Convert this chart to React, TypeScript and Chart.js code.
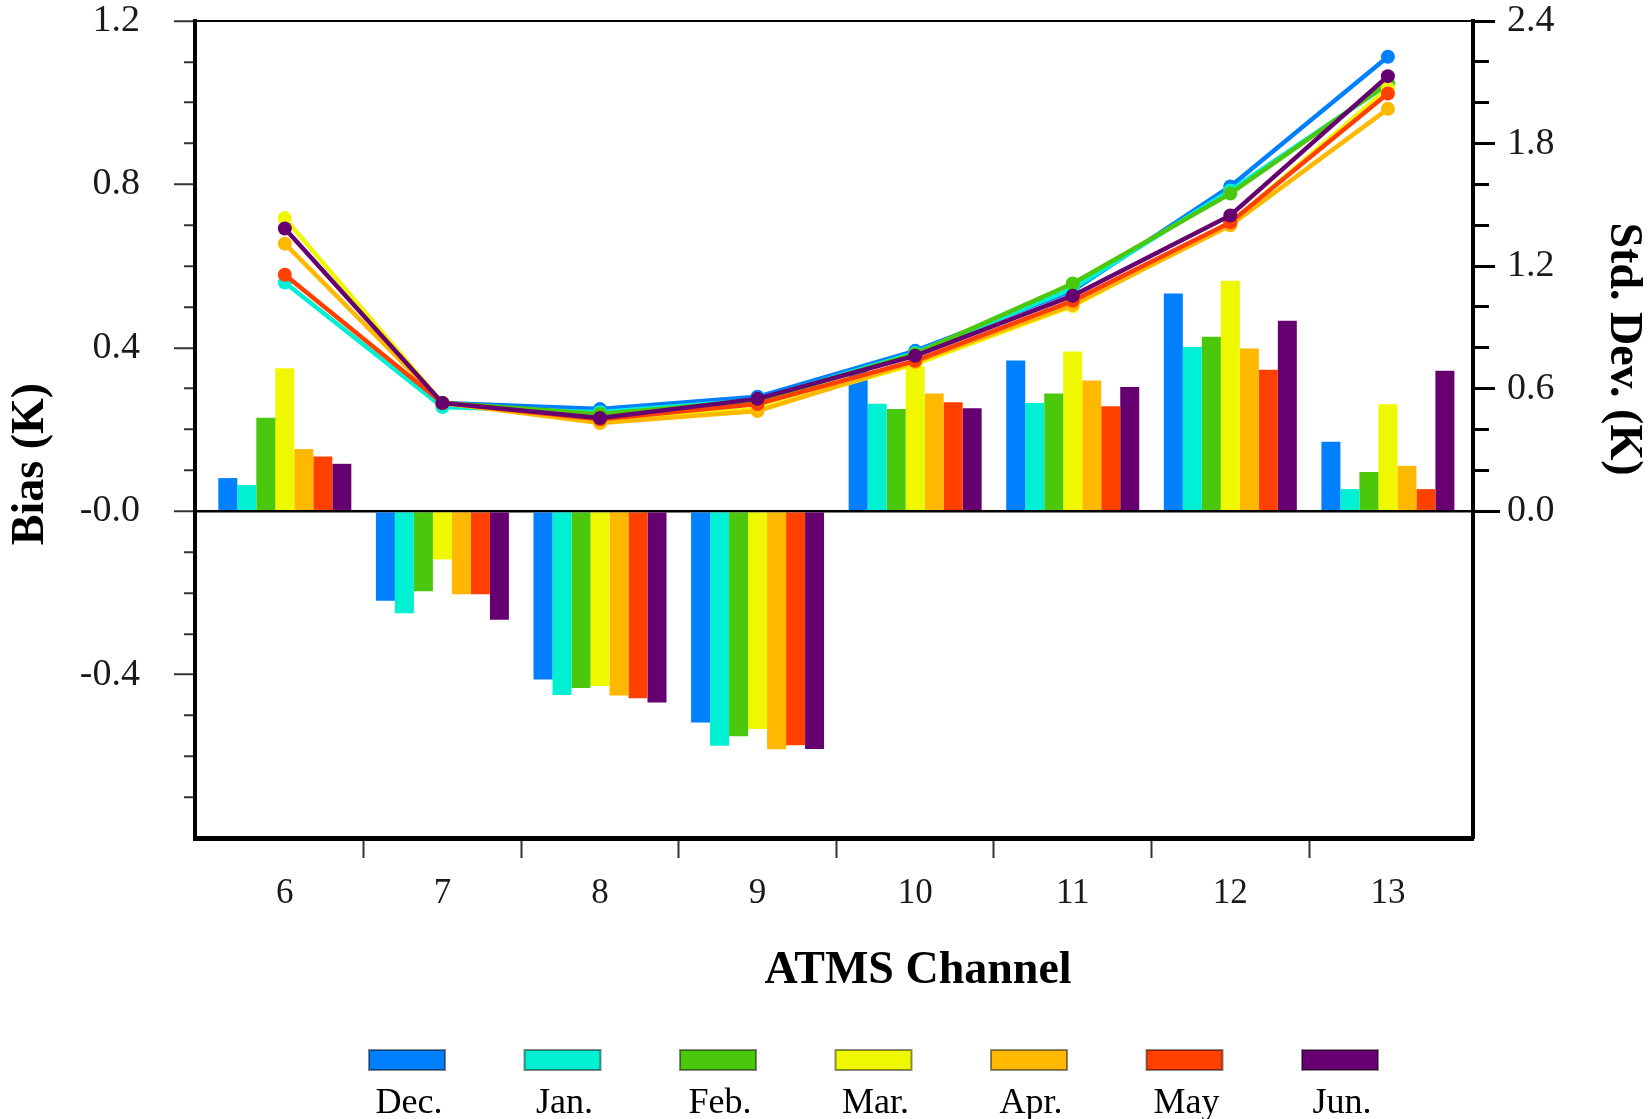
import React, { useEffect, useRef } from 'react';
import { Chart, registerables } from 'chart.js';

Chart.register(...registerables);

const SERIF = '"Liberation Serif", "Times New Roman", serif';

// ---- data ----
const CHANNELS = [6, 7, 8, 9, 10, 11, 12, 13];
const MONTHS = ['Dec.', 'Jan.', 'Feb.', 'Mar.', 'Apr.', 'May', 'Jun.'];
const COLORS = ['#0080ff', '#00f0d4', '#4cc80c', '#f0f800', '#ffb800', '#ff4000', '#660070'];

// Bias (K), bars, left axis
const BIAS_DEC = [0.081, -0.219, -0.412, -0.517, 0.346, 0.369, 0.533, 0.170];
const BIAS_JAN = [0.064, -0.250, -0.450, -0.574, 0.263, 0.265, 0.402, 0.054];
const BIAS_FEB = [0.229, -0.196, -0.433, -0.551, 0.250, 0.288, 0.427, 0.096];
const BIAS_MAR = [0.350, -0.118, -0.428, -0.533, 0.355, 0.391, 0.564, 0.262];
const BIAS_APR = [0.152, -0.203, -0.451, -0.583, 0.288, 0.320, 0.398, 0.111];
const BIAS_MAY = [0.134, -0.203, -0.458, -0.573, 0.267, 0.257, 0.346, 0.054];
const BIAS_JUN = [0.116, -0.266, -0.468, -0.582, 0.252, 0.304, 0.466, 0.344];

// Std. Dev. (K), lines, right axis
const STD_DEC = [null, 0.53, 0.50, 0.56, 0.785, 1.08, 1.59, 2.225];
const STD_JAN = [1.12, 0.51, 0.485, 0.545, 0.775, 1.09, 1.57, 2.09];
const STD_FEB = [null, 0.53, 0.476, 0.54, 0.77, 1.115, 1.555, 2.095];
const STD_MAR = [1.435, 0.53, 0.44, 0.50, 0.72, 1.005, 1.41, 2.07];
const STD_APR = [1.31, 0.53, 0.432, 0.49, 0.73, 1.01, 1.40, 1.97];
const STD_MAY = [1.158, 0.53, 0.45, 0.525, 0.736, 1.03, 1.414, 2.045];
const STD_JUN = [1.384, 0.53, 0.456, 0.55, 0.761, 1.055, 1.448, 2.13];

const BIAS = [BIAS_DEC, BIAS_JAN, BIAS_FEB, BIAS_MAR, BIAS_APR, BIAS_MAY, BIAS_JUN];
const STD = [STD_DEC, STD_JAN, STD_FEB, STD_MAR, STD_APR, STD_MAY, STD_JUN];

// ticks
const BIAS_TICKS = [1.2, 0.8, 0.4, 0, -0.4];
const BIAS_TICK_LABELS = ['1.2', '0.8', '0.4', '-0.0', '-0.4'];
const STD_TICKS = [0, 0.6, 1.2, 1.8, 2.4];
const STD_TICK_LABELS = ['0.0', '0.6', '1.2', '1.8', '2.4'];

const X_TITLE = 'ATMS Channel';
const Y_TITLE = 'Bias (K)';
const Y2_TITLE = 'Std. Dev. (K)';

const near = (a: number, b: number) => Math.abs(a - b) < 1e-6;

const noPad = (s: any) => {
  s.paddingTop = 0;
  s.paddingBottom = 0;
  s.paddingLeft = 0;
  s.paddingRight = 0;
};

const decorPlugin = {
  id: 'decor',
  afterDraw(chart: any) {
    const { ctx, chartArea } = chart;
    ctx.save();
    // top frame line
    ctx.strokeStyle = '#000';
    ctx.lineWidth = 2;
    ctx.beginPath();
    ctx.moveTo(chartArea.left, chartArea.top);
    ctx.lineTo(chartArea.right, chartArea.top);
    ctx.stroke();

    // axis titles
    ctx.fillStyle = '#000';
    ctx.font = `bold 46px ${SERIF}`;
    ctx.textAlign = 'center';
    ctx.textBaseline = 'middle';
    ctx.fillText(X_TITLE, 918, 971);
    ctx.save();
    ctx.translate(31, 464);
    ctx.rotate(-Math.PI / 2);
    ctx.fillText(Y_TITLE, 0, 0);
    ctx.restore();
    ctx.save();
    ctx.translate(1623, 349);
    ctx.rotate(Math.PI / 2);
    ctx.fillText(Y2_TITLE, 0, 0);
    ctx.restore();

    // legend: swatch with label below
    const bars = chart.data.datasets.filter((d: any) => d.type === 'bar');
    ctx.font = `36px ${SERIF}`;
    ctx.textBaseline = 'alphabetic';
    bars.forEach((d: any, i: number) => {
      const x = 369 + i * 155.5;
      const y = 1050;
      ctx.fillStyle = d.backgroundColor;
      ctx.fillRect(x, y, 76, 20);
      ctx.strokeStyle = 'rgba(0,0,0,0.45)';
      ctx.lineWidth = 2;
      ctx.strokeRect(x, y, 76, 20);
      ctx.fillStyle = '#000';
      ctx.fillText(d.label, x + 40, 1113);
    });
    ctx.restore();
  },
};

export default function App() {
  const ref = useRef<HTMLCanvasElement | null>(null);

  useEffect(() => {
    if (!ref.current) return;
    Chart.defaults.font.family = SERIF;

    const barSets = MONTHS.map((m, i) => ({
      type: 'bar' as const,
      label: m,
      data: CHANNELS.map((c, j) => ({ x: c, y: BIAS[i][j] })),
      backgroundColor: COLORS[i],
      borderWidth: 0,
      barPercentage: 1,
      categoryPercentage: 0.844,
      xAxisID: 'x',
      yAxisID: 'y',
      order: 20,
    }));
    const lineSets = MONTHS.map((m, i) => ({
      type: 'line' as const,
      label: m + ' std',
      data: CHANNELS.map((c, j) => ({ x: c, y: STD[i][j] })),
      borderColor: COLORS[i],
      backgroundColor: COLORS[i],
      pointBackgroundColor: COLORS[i],
      pointBorderWidth: 0,
      pointRadius: 7,
      borderWidth: 4.5,
      tension: 0,
      fill: false,
      xAxisID: 'x',
      yAxisID: 'y2',
      order: 10 - i,
    }));

    const chart = new Chart(ref.current, {
      type: 'bar',
      data: { datasets: [...barSets, ...lineSets] as any },
      options: {
        animation: false,
        responsive: false,
        layout: { padding: { top: 21, left: 0, right: 0, bottom: 0 } },
        plugins: { legend: { display: false }, tooltip: { enabled: false } },
        scales: {
          x: {
            type: 'linear',
            position: 'bottom',
            min: 5.43,
            max: 13.54,
            offset: false,
            afterBuildTicks: (s: any) => {
              s.ticks = CHANNELS.map((v) => ({ value: v }));
            },
            afterFit: (s: any) => {
              s.height = 281;
              noPad(s);
            },
            ticks: {
              autoSkip: false,
              maxRotation: 0,
              padding: 15,
              color: '#1a1a1a',
              font: { size: 35, family: SERIF },
              callback: (v: any) => String(v),
            },
            grid: {
              offset: true,
              drawOnChartArea: false,
              drawTicks: true,
              tickLength: 20,
              tickWidth: 2,
              tickColor: (c: any) => (c.type === 'tick' && c.index > 0 ? '#333' : 'rgba(0,0,0,0)'),
            },
            border: { display: true, width: 5, color: '#000' },
          },
          y: {
            type: 'linear',
            position: 'left',
            min: -0.8,
            max: 1.2,
            afterBuildTicks: (s: any) => {
              const t = [];
              for (let k = -8; k <= 12; k++) t.push({ value: k / 10 });
              s.ticks = t;
            },
            afterFit: (s: any) => {
              s.width = 195;
              noPad(s);
            },
            ticks: {
              autoSkip: false,
              padding: 34,
              color: '#1a1a1a',
              font: { size: 38, family: SERIF },
              callback: (v: any) => {
                const i = BIAS_TICKS.findIndex((t) => near(t, v));
                return i >= 0 ? BIAS_TICK_LABELS[i] : '';
              },
            },
            grid: {
              drawOnChartArea: true,
              color: (c: any) => (c.type === 'tick' && near(c.tick.value, 0) ? '#000' : 'rgba(0,0,0,0)'),
              lineWidth: 2.5,
              tickLength: 21,
              tickWidth: 2,
              tickColor: (c: any) => (c.type === 'tick' && c.tick.value > -0.75 ? '#333' : 'rgba(0,0,0,0)'),
              tickBorderDash: (c: any) =>
                c.type === 'tick' && BIAS_TICKS.some((t) => near(t, c.tick.value)) ? [] : [0, 10, 40, 0],
            },
            border: { display: true, width: 4, color: '#000' },
          },
          y2: {
            type: 'linear',
            position: 'right',
            min: -1.6,
            max: 2.4,
            afterBuildTicks: (s: any) => {
              const t = [];
              for (let k = 0; k <= 12; k++) t.push({ value: Math.round(k * 2) / 10 });
              s.ticks = t;
            },
            afterFit: (s: any) => {
              s.width = 179;
              noPad(s);
            },
            ticks: {
              autoSkip: false,
              padding: 7,
              color: '#1a1a1a',
              font: { size: 38, family: SERIF },
              callback: (v: any) => {
                const i = STD_TICKS.findIndex((t) => near(t, v));
                return i >= 0 ? STD_TICK_LABELS[i] : '';
              },
            },
            grid: {
              drawOnChartArea: false,
              tickLength: 27,
              tickWidth: 3,
              tickColor: '#000',
              tickBorderDash: (c: any) => {
                if (c.type !== 'tick') return [];
                const v = c.tick.value;
                if (near(v, 0)) return [];
                return STD_TICKS.some((t) => near(t, v)) ? [20, 100] : [14, 100];
              },
            },
            border: { display: true, width: 4, color: '#000' },
          },
        },
      } as any,
      plugins: [decorPlugin],
    });

    return () => chart.destroy();
  }, []);

  return (
    <div style={{ position: 'absolute', left: 0, top: 0, width: 1652, height: 1119, background: '#fff' }}>
      <canvas ref={ref} width={1652} height={1119} style={{ display: 'block', width: 1652, height: 1119 }} />
    </div>
  );
}
